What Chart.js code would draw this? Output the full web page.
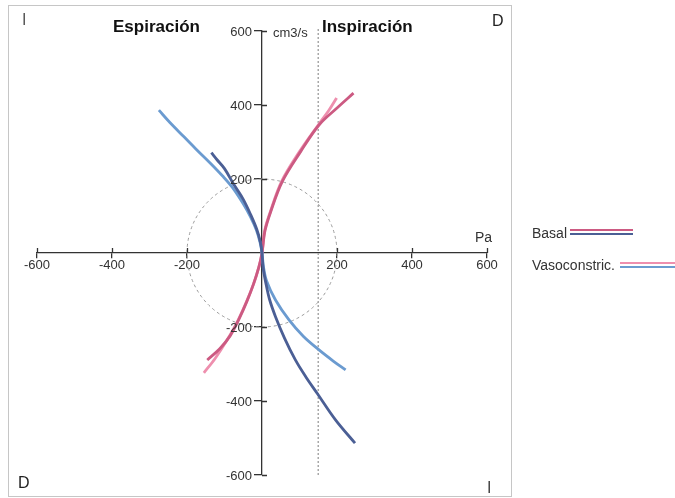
<!DOCTYPE html>
<html>
<head>
<meta charset="utf-8">
<script src="https://cdn.jsdelivr.net/npm/chart.js@4/dist/chart.umd.min.js"></script>
<style>
  body { margin: 0; background: #fff; font-family: "Liberation Sans", Arial, sans-serif; }
  #wrap { position: relative; width: 675px; height: 498px; }
  #frame { position: absolute; left: 8px; top: 5px; width: 502px; height: 490px; border: 1px solid #c6c6c6; }
  canvas { position: absolute; left: 0; top: 0; }
  .txt { position: absolute; color: #222; white-space: nowrap; line-height: 1; }
  .bold { font-weight: bold; font-size: 17px; color: #111; }
  .sw { position: absolute; height: 2px; }
</style>
</head>
<body>
<div id="wrap">
  <div id="frame"></div>
  <canvas id="chart" width="675" height="498"></canvas>

  <div class="txt" style="left:22px; top:12px; font-size:16px; color:#555;">I</div>
  <div class="txt" style="left:492px; top:13px; font-size:16px;">D</div>
  <div class="txt" style="left:18px; top:475px; font-size:16px;">D</div>
  <div class="txt" style="left:487px; top:480px; font-size:16px; color:#444;">I</div>
  <div class="txt bold" style="left:113px; top:18px;">Espiración</div>
  <div class="txt bold" style="left:322px; top:18px;">Inspiración</div>
  <div class="txt" style="left:273px; top:26px; font-size:13px; color:#333;">cm3/s</div>
  <div class="txt" style="left:475px; top:230px; font-size:14px; color:#333;">Pa</div>

  <div class="txt" style="left:532px; top:226px; font-size:14px; color:#333;">Basal</div>
  <div class="sw" style="left:570px; top:229px; width:63px; background:#cc5a82;"></div>
  <div class="sw" style="left:570px; top:233px; width:63px; background:#4b5f95;"></div>
  <div class="txt" style="left:532px; top:258px; font-size:14px; color:#333;">Vasoconstric.</div>
  <div class="sw" style="left:620px; top:262px; width:55px; background:#ee8fae;"></div>
  <div class="sw" style="left:620px; top:266px; width:55px; background:#6b9bd0;"></div>
</div>

<script>
// pulmón derecho (rosa) y izquierdo (azul), presión (Pa) vs flujo (cm3/s)
const basalDerX = [-146, -112, -85, -62, -40, -22, -8, 0, 8, 23, 54, 103, 152, 200, 244];
const basalDerY = [-289, -258, -224, -180, -130, -82, -37, 0, 60, 111, 193, 274, 346, 392, 432];

const vasoDerX = [-155, -125, -95, -68, -45, -24, -9, 0, 7, 22, 52, 100, 150, 178, 199];
const vasoDerY = [-324, -285, -238, -190, -140, -88, -40, 0, 60, 111, 193, 274, 346, 385, 419];

const basalIzqX = [-135, -120, -100, -75, -50, -30, -14, -4, 0, 3, 10, 20, 36, 60, 89, 117, 147, 196, 248];
const basalIzqY = [271, 252, 228, 185, 145, 103, 64, 28, 0, -40, -80, -125, -172, -230, -289, -335, -379, -451, -514];

const vasoIzqX = [-275, -245, -208, -175, -137, -105, -78, -50, -31, -15, -5, 0, 4, 12, 36, 72, 110, 152, 190, 223];
const vasoIzqY = [386, 352, 314, 280, 242, 208, 176, 133, 98, 62, 28, 0, -38, -75, -127, -181, -225, -262, -292, -316];

const xTicks = [-600, -400, -200, 0, 200, 400, 600];
const yTicks = [-600, -400, -200, 0, 200, 400, 600];
const circleRadius = 200;
const umbralX = 150;

function pts(xs, ys) {
  return xs.map((x, i) => ({ x: x, y: ys[i] }));
}

const guides = {
  id: 'guides',
  beforeDatasetsDraw(chart) {
    const c = chart.ctx, sx = chart.scales.x, sy = chart.scales.y;
    const cx = sx.getPixelForValue(0), cy = sy.getPixelForValue(0);
    c.save();
    // circulo de referencia
    c.strokeStyle = '#9a9a9a';
    c.lineWidth = 1;
    c.setLineDash([3, 3]);
    c.beginPath();
    c.ellipse(cx, cy, sx.getPixelForValue(circleRadius) - cx, cy - sy.getPixelForValue(circleRadius), 0, 0, Math.PI * 2);
    c.stroke();
    // linea punteada vertical
    c.strokeStyle = '#a8a8a8';
    c.lineWidth = 1.5;
    c.setLineDash([2, 2]);
    const lx = sx.getPixelForValue(umbralX);
    c.beginPath();
    c.moveTo(lx, sy.getPixelForValue(-600));
    c.lineTo(lx, sy.getPixelForValue(600) - 4);
    c.stroke();
    c.restore();
  },
  afterDraw(chart) {
    const c = chart.ctx, sx = chart.scales.x, sy = chart.scales.y;
    const cx = sx.getPixelForValue(0), cy = sy.getPixelForValue(0);
    c.save();
    c.strokeStyle = '#333';
    c.lineWidth = 1.3;
    c.beginPath();
    xTicks.forEach(v => {
      if (v === 0) return;
      const px = Math.round(sx.getPixelForValue(v)) + 0.5;
      c.moveTo(px, cy);
      c.lineTo(px, cy - 5);
    });
    yTicks.forEach(v => {
      if (v === 0) return;
      const py = Math.round(sy.getPixelForValue(v)) + 0.5;
      c.moveTo(cx, py);
      c.lineTo(cx + 5, py);
    });
    c.stroke();
    // etiquetas del eje y, a la izquierda de las marcas
    c.fillStyle = '#333';
    c.font = '13px "Liberation Sans", Arial, sans-serif';
    c.textAlign = 'right';
    c.textBaseline = 'middle';
    yTicks.forEach(v => {
      if (v === 0) return;
      c.fillText(String(v), cx - 10, sy.getPixelForValue(v) + 1);
    });
    c.restore();
  }
};

const tickFont = { family: '"Liberation Sans", Arial, sans-serif', size: 13 };

new Chart(document.getElementById('chart'), {
  type: 'scatter',
  data: {
    datasets: [
      { label: 'Basal izq', data: pts(basalIzqX, basalIzqY), borderColor: '#4b5f95' },
      { label: 'Vasoconstric. izq', data: pts(vasoIzqX, vasoIzqY), borderColor: '#6b9bd0' },
      { label: 'Basal der', data: pts(basalDerX, basalDerY), borderColor: '#cc5a82' },
      { label: 'Vasoconstric. der', data: pts(vasoDerX, vasoDerY), borderColor: '#ee8fae' }
    ]
  },
  options: {
    responsive: false,
    animation: false,
    layout: { padding: { left: 37, right: 188, top: 31, bottom: 23 } },
    plugins: { legend: { display: false }, tooltip: { enabled: false } },
    datasets: { scatter: { showLine: true, pointRadius: 0, borderWidth: 2.8, tension: 0.35 } },
    scales: {
      x: {
        type: 'linear', min: -600, max: 600, position: { y: 0 },
        afterBuildTicks: s => { s.ticks = xTicks.map(v => ({ value: v })); },
        ticks: { callback: v => v === 0 ? '' : v, color: '#333', font: tickFont, padding: 0, maxRotation: 0, autoSkip: false },
        grid: { drawOnChartArea: false, tickLength: 5, lineWidth: 1.3, color: ctx => ctx.tick && ctx.tick.value === 0 ? 'rgba(0,0,0,0)' : '#333' },
        border: { color: '#333', width: 1.3 }
      },
      y: {
        type: 'linear', min: -600, max: 600, position: { x: 0 },
        afterBuildTicks: s => { s.ticks = yTicks.map(v => ({ value: v })); },
        ticks: { display: false },
        grid: { drawOnChartArea: false, tickLength: 7, lineWidth: 1.3, color: ctx => ctx.tick && ctx.tick.value === 0 ? 'rgba(0,0,0,0)' : '#333' },
        border: { color: '#333', width: 1.3 }
      }
    }
  },
  plugins: [guides]
});
</script>
</body>
</html>
